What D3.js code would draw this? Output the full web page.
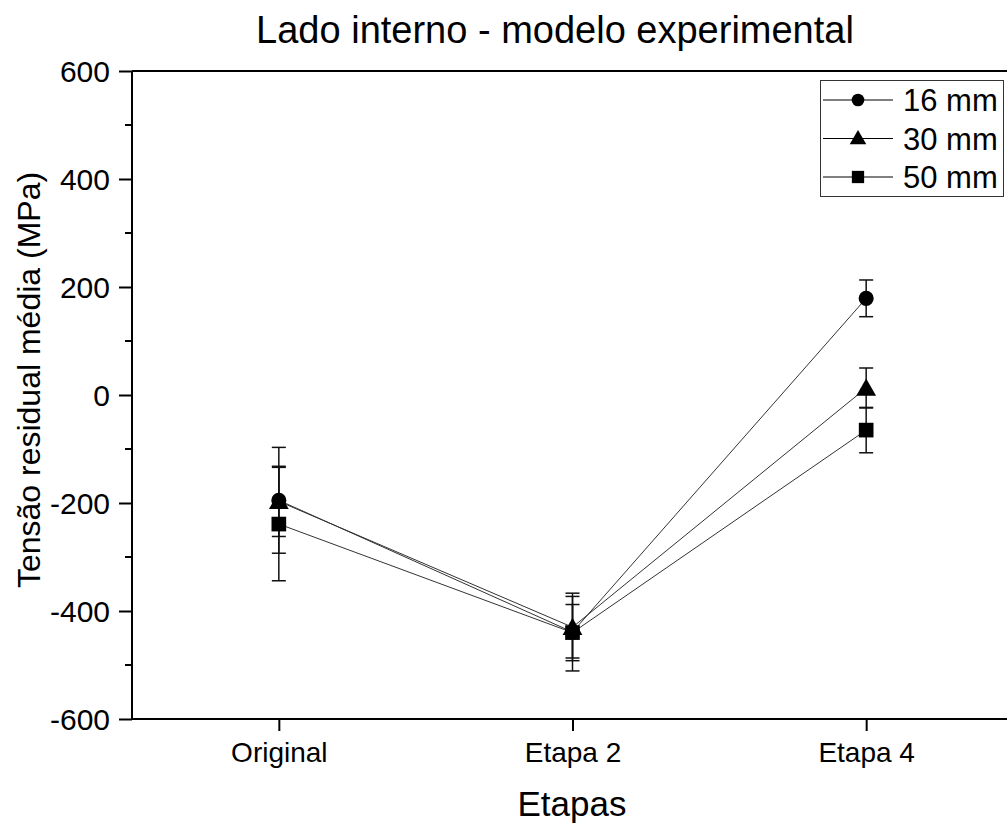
<!DOCTYPE html>
<html>
<head>
<meta charset="utf-8">
<script src="https://cdn.jsdelivr.net/npm/d3@7"></script>
<style>
body { margin:0; background:#fff; }
text { font-family: "Liberation Sans", Arial, sans-serif; fill:#000; }
</style>
</head>
<body>
<div id="chart"></div>
<script>
var categories = ["Original", "Etapa 2", "Etapa 4"];
var seriesNames = ["16 mm", "30 mm", "50 mm"];
var values16 = [-195, -439, 179];
var errors16 = [98, 72, 34];
var values30 = [-197, -430, 13];
var errors30 = [65, 57, 37];
var values50 = [-239, -440, -65];
var errors50 = [105, 52, 42];
var yTicks = [-600, -400, -200, 0, 200, 400, 600];

var margin = {top: 71, left: 132},
    outerWidth = 1007,
    outerHeight = 824,
    width1 = 881,
    height1 = 648;

var series = [
    {name: seriesNames[0], values: values16, errors: errors16, shape: d3.symbolCircle, size: 180},
    {name: seriesNames[1], values: values30, errors: errors30, shape: d3.symbolTriangle, size: 170},
    {name: seriesNames[2], values: values50, errors: errors50, shape: d3.symbolSquare, size: 215}
];

var x = d3.scalePoint()
    .domain(categories)
    .range([0, width1])
    .padding(0.5);

var y = d3.scaleLinear()
    .domain([-600, 600])
    .range([height1, 0]);

var svg = d3.select("#chart")
    .append("svg")
    .attr("width", outerWidth)
    .attr("height", outerHeight);

svg.append("text")
    .attr("x", 555)
    .attr("y", 43)
    .attr("text-anchor", "middle")
    .style("font-size", "38px")
    .text("Lado interno - modelo experimental");

var g = svg.append("g")
    .attr("transform", "translate(" + margin.left + "," + margin.top + ")");

// top frame line
g.append("line")
    .attr("x1", 0).attr("x2", width1)
    .attr("y1", 0).attr("y2", 0)
    .attr("stroke", "#000").attr("stroke-width", 2);

// minor ticks
var minor = d3.range(-500, 600, 200);
g.selectAll(".minor")
    .data(minor)
    .enter().append("line")
    .attr("x1", -7).attr("x2", 0)
    .attr("y1", function(d) { return y(d); })
    .attr("y2", function(d) { return y(d); })
    .attr("stroke", "#000").attr("stroke-width", 2);

var yAxis = d3.axisLeft(y)
    .tickValues(yTicks)
    .tickFormat(function(d) { return String(d); })
    .tickSize(13)
    .tickPadding(9);

var gY = g.append("g").call(yAxis);
gY.selectAll("path, line").attr("stroke", "#000").attr("stroke-width", 2);
gY.select(".domain").attr("d", "M0," + height1 + "V0");
gY.selectAll("text")
    .style("font-size", "30px")
    .style("font-family", "Liberation Sans, Arial, sans-serif")
    .attr("dy", "0.36em");

var xAxis = d3.axisBottom(x)
    .tickSize(12)
    .tickPadding(10);

var gX = g.append("g")
    .attr("transform", "translate(0," + height1 + ")")
    .call(xAxis);
gX.selectAll("path, line").attr("stroke", "#000").attr("stroke-width", 2);
gX.select(".domain").attr("d", "M0,0H" + width1);
gX.selectAll("text")
    .style("font-size", "28px")
    .style("font-family", "Liberation Sans, Arial, sans-serif")
    .attr("dy", "0.75em");

svg.append("text")
    .attr("x", 572)
    .attr("y", 816)
    .attr("text-anchor", "middle")
    .style("font-size", "35px")
    .text("Etapas");

svg.append("text")
    .attr("transform", "translate(40," + (margin.top + height1 / 2 - 15) + ") rotate(-90)")
    .attr("text-anchor", "middle")
    .style("font-size", "32px")
    .text("Tensão residual média (MPa)");

var line = d3.line()
    .x(function(d, i) { return x(categories[i]); })
    .y(function(d) { return y(d); });

var objects = g.append("g");

series.forEach(function(s) {
    objects.append("path")
        .attr("d", line(s.values))
        .attr("fill", "none")
        .attr("stroke", "#333")
        .attr("stroke-width", 1);
});

series.forEach(function(s) {
    var eb = objects.append("g");
    s.values.forEach(function(v, i) {
        var cx = x(categories[i]);
        var top = y(v + s.errors[i]), bot = y(v - s.errors[i]);
        eb.append("line").attr("x1", cx).attr("x2", cx).attr("y1", top).attr("y2", bot);
        eb.append("line").attr("x1", cx - 7).attr("x2", cx + 7).attr("y1", top).attr("y2", top);
        eb.append("line").attr("x1", cx - 7).attr("x2", cx + 7).attr("y1", bot).attr("y2", bot);
    });
    eb.selectAll("line").attr("stroke", "#111").attr("stroke-width", 1.5);
});

series.forEach(function(s) {
    objects.selectAll(null)
        .data(s.values)
        .enter().append("path")
        .attr("d", d3.symbol().type(s.shape).size(s.size))
        .attr("transform", function(d, i) {
            var dy = s.shape === d3.symbolTriangle ? 2 : 0;
            return "translate(" + x(categories[i]) + "," + (y(d) + dy) + ")";
        })
        .attr("fill", "#000");
});

// legend
var legend = svg.append("g");
legend.append("rect")
    .attr("x", 820.5).attr("y", 80.5)
    .attr("width", 183).attr("height", 116)
    .attr("fill", "#fff").attr("stroke", "#333").attr("stroke-width", 1);

series.forEach(function(s, i) {
    var ly = 100 + i * 38.5;
    legend.append("line")
        .attr("x1", 823).attr("x2", 893)
        .attr("y1", ly).attr("y2", ly)
        .attr("stroke", "#000").attr("stroke-width", 1);
    legend.append("path")
        .attr("d", d3.symbol().type(s.shape).size(s.size * 0.7))
        .attr("transform", "translate(858," + (ly + (s.shape === d3.symbolTriangle ? 1 : 0)) + ")")
        .attr("fill", "#000");
    legend.append("text")
        .attr("x", 903)
        .attr("y", ly + 11)
        .style("font-size", "31px")
        .text(s.name);
});
</script>
</body>
</html>
